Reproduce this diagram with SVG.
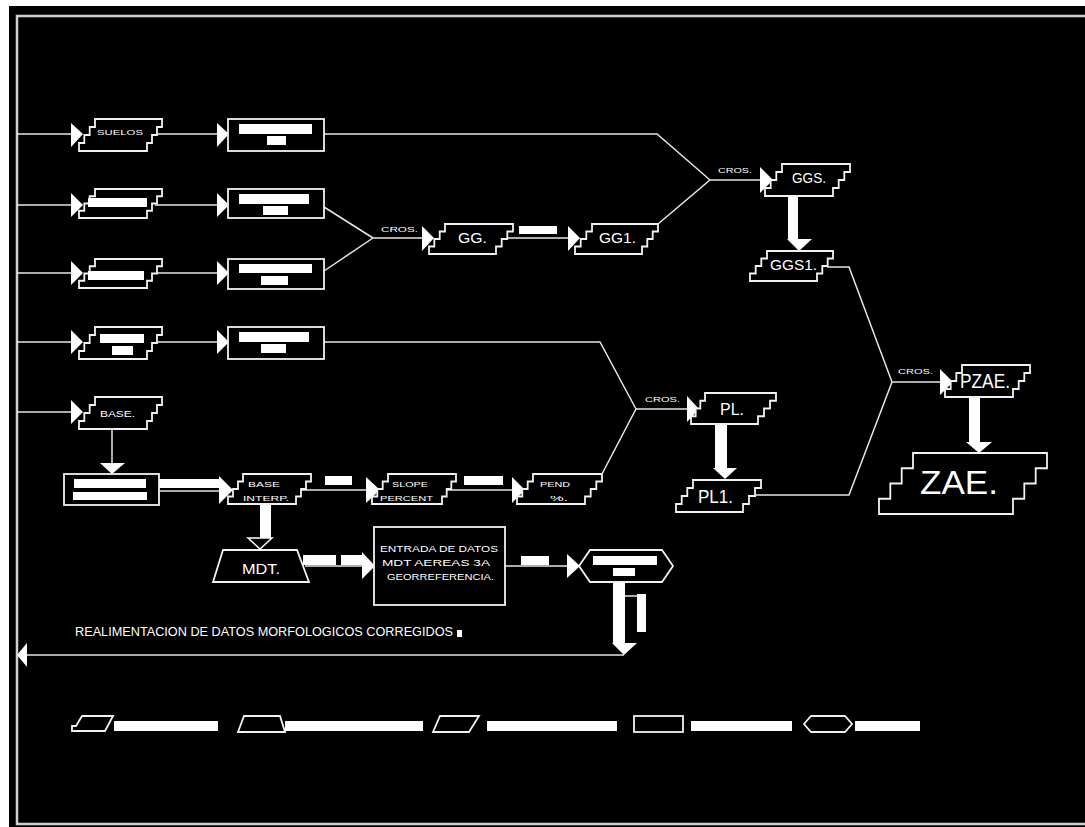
<svg xmlns="http://www.w3.org/2000/svg" width="1085" height="827" viewBox="0 0 1085 827">
<style>
.ln{stroke:#e6e6e6;stroke-width:1.5;fill:none}
.sh{stroke:#f2f2f2;stroke-width:1.8;fill:#000}
.wb{fill:#fff}
.ah{fill:#fff}
.t{fill:#fff;font-family:'Liberation Sans',Arial,sans-serif}
.s{font-size:8px}
.m{font-size:15px}
</style>
<rect x="0" y="0" width="1085" height="827" fill="#fff"/>
<rect x="9" y="6" width="1076" height="821" fill="#000"/>
<path d="M1085,16 H17 V824 H1085" fill="none" stroke="#d0d0d0" stroke-width="2.5"/>

<g id="connectors">
  <path class="ln" d="M17,134 H71 M155,134 H217"/>
  <path class="ln" d="M17,205 H71 M155,205 H217"/>
  <path class="ln" d="M17,273 H71 M155,273 H217"/>
  <path class="ln" d="M17,342 H71 M155,342 H217"/>
  <path class="ln" d="M17,412 H71"/>
  <polygon class="ah" points="71,123 83,134 71,147"/>
  <polygon class="ah" points="217,123 229,134 217,147"/>
  <polygon class="ah" points="71,193 83,205 71,217"/>
  <polygon class="ah" points="217,193 229,205 217,217"/>
  <polygon class="ah" points="71,261 83,273 71,285"/>
  <polygon class="ah" points="217,261 229,273 217,285"/>
  <polygon class="ah" points="71,330 83,342 71,354"/>
  <polygon class="ah" points="217,330 229,342 217,354"/>
  <polygon class="ah" points="71,400 83,412 71,424"/>
  <path class="ln" d="M324,134 H657 L710,180"/>
  <path class="ln" d="M324,207 L373,238 M324,271 L373,238 M373,238 H422"/>
  <polygon class="ah" points="422,226 434,238 422,251"/>
  <path class="ln" d="M500,238 H568"/>
  <rect class="wb" x="519" y="226" width="38" height="8"/>
  <polygon class="ah" points="568,226 580,238 568,251"/>
  <path class="ln" d="M658,224 L710,180 H760"/>
  <polygon class="ah" points="760,167 773,180 760,193"/>
  <rect class="wb" x="788" y="196" width="10" height="43"/>
  <polygon class="ah" points="787,239 812,239 799,251"/>
  <path class="ln" d="M827,267 H849 L892,382"/>
  <path class="ln" d="M324,342 H600 L636,409"/>
  <path class="ln" d="M112,429 V463"/>
  <polygon class="ah" points="100,463 125,463 112,474"/>
  <rect class="wb" x="159" y="479" width="60" height="9"/>
  <path class="ln" d="M159,491 H222"/>
  <polygon class="ah" points="219,476 233,490 219,504"/>
  <path class="ln" d="M300,490 H366"/>
  <rect class="wb" x="325" y="476" width="27" height="9"/>
  <polygon class="ah" points="366,477 380,490 366,503"/>
  <path class="ln" d="M446,490 H512"/>
  <rect class="wb" x="464" y="476" width="39" height="9"/>
  <polygon class="ah" points="512,477 525,490 512,503"/>
  <path class="ln" d="M602,474 L636,409 H687"/>
  <polygon class="ah" points="687,396 699,409 687,422"/>
  <rect class="wb" x="715" y="424" width="12" height="44"/>
  <polygon class="ah" points="713,468 737,468 725,479"/>
  <path class="ln" d="M752,495 H849 L892,382 H940"/>
  <polygon class="ah" points="940,369 953,382 940,395"/>
  <rect class="wb" x="969" y="397" width="11" height="45"/>
  <polygon class="ah" points="966,442 992,442 979,453"/>
  <rect class="wb" x="260" y="504" width="11" height="34"/>
  <polygon points="248,538 272,538 260,549" fill="#000" stroke="#fff" stroke-width="1.5"/>
  <path class="ln" d="M305,566 H364"/>
  <rect class="wb" x="303" y="555" width="33" height="10"/>
  <rect class="wb" x="341" y="555" width="22" height="10"/>
  <polygon class="ah" points="362,552 375,566 362,579"/>
  <path class="ln" d="M505,566 H568"/>
  <rect class="wb" x="521" y="556" width="28" height="9"/>
  <polygon class="ah" points="567,554 580,566 567,578"/>
  <rect class="wb" x="613" y="582" width="12" height="61"/>
  <path class="ln" d="M625,596 H637"/>
  <rect class="wb" x="637" y="594" width="9" height="38"/>
  <polygon class="ah" points="612,643 637,643 624,655"/>
  <path class="ln" d="M624,655 H26"/>
  <polygon class="ah" points="27,643 17,655 27,667"/>
  <text class="t" x="381" y="232" font-size="8" textLength="37" lengthAdjust="spacingAndGlyphs">CROS.</text>
  <text class="t" x="718" y="173" font-size="8" textLength="34" lengthAdjust="spacingAndGlyphs">CROS.</text>
  <text class="t" x="645" y="402" font-size="8" textLength="35" lengthAdjust="spacingAndGlyphs">CROS.</text>
  <text class="t" x="898" y="374" font-size="8" textLength="35" lengthAdjust="spacingAndGlyphs">CROS.</text>
  <text class="t" x="75" y="636" font-size="12.5" textLength="378" lengthAdjust="spacingAndGlyphs">REALIMENTACION DE DATOS MORFOLOGICOS CORREGIDOS</text>
  <rect class="wb" x="457" y="630" width="5" height="7"/>
</g>

<g id="suelos">
  <path class="sh" d="M95,119 H162 V127 H157 V135 H152 V143 H147 V151 H79 V143 H84.3 V135 H89.7 V127 H95 Z"/>
  <text class="t" x="97" y="135" font-size="8" textLength="46" lengthAdjust="spacingAndGlyphs">SUELOS</text>
</g>
<g id="in2">
  <path class="sh" d="M95,189 H162 V196.25 H157 V203.5 H152 V210.75 H147 V218 H79 V210.75 H84.3 V203.5 H89.7 V196.25 H95 Z"/>
  <rect class="wb" x="88" y="198" width="59" height="9"/>
</g>
<g id="in3">
  <path class="sh" d="M95,259 H162 V266.25 H157 V273.5 H152 V280.75 H147 V288 H79 V280.75 H84.3 V273.5 H89.7 V266.25 H95 Z"/>
  <rect class="wb" x="88" y="271" width="56" height="9"/>
</g>
<g id="in4">
  <path class="sh" d="M95,327 H162 V335 H157 V343 H152 V351 H147 V359 H79 V351 H84.3 V343 H89.7 V335 H95 Z"/>
  <rect class="wb" x="100" y="334" width="44" height="9"/>
  <rect class="wb" x="112" y="346" width="21" height="9"/>
</g>
<g id="base">
  <path class="sh" d="M95,397 H162 V405 H157 V413 H152 V421 H147 V429 H79 V421 H84.3 V413 H89.7 V405 H95 Z"/>
  <text class="t" x="100" y="417" font-size="9" textLength="35" lengthAdjust="spacingAndGlyphs">BASE.</text>
</g>
<g id="r1">
  <rect class="sh" x="228" y="119" width="96" height="32"/>
  <rect class="wb" x="239" y="124" width="73" height="10"/>
  <rect class="wb" x="267" y="136" width="19" height="9"/>
</g>
<g id="r2">
  <rect class="sh" x="228" y="189" width="96" height="29"/>
  <rect class="wb" x="239" y="194" width="70" height="10"/>
  <rect class="wb" x="263" y="206" width="25" height="9"/>
</g>
<g id="r3">
  <rect class="sh" x="228" y="259" width="96" height="30"/>
  <rect class="wb" x="239" y="264" width="73" height="9"/>
  <rect class="wb" x="261" y="276" width="27" height="9"/>
</g>
<g id="r4">
  <rect class="sh" x="228" y="327" width="96" height="32"/>
  <rect class="wb" x="239" y="332" width="70" height="10"/>
  <rect class="wb" x="261" y="344" width="25" height="9"/>
</g>
<g id="basebox">
  <rect class="sh" x="64" y="474" width="95" height="31"/>
  <rect class="wb" x="74" y="479" width="72" height="9"/>
  <rect class="wb" x="73" y="492" width="74" height="8"/>
</g>
<g id="gg">
  <path class="sh" d="M445,224 H513 V231.5 H507.3 V239 H501.7 V246.5 H496 V254 H429 V246.5 H434.3 V239 H439.7 V231.5 H445 Z"/>
  <text class="t m" x="458" y="243" textLength="29" lengthAdjust="spacingAndGlyphs">GG.</text>
</g>
<g id="gg1">
  <path class="sh" d="M592,224 H658 V231.5 H652.7 V239 H647.3 V246.5 H642 V254 H575 V246.5 H580.7 V239 H586.3 V231.5 H592 Z"/>
  <text class="t m" x="599" y="243" textLength="37" lengthAdjust="spacingAndGlyphs">GG1.</text>
</g>
<g id="ggs">
  <path class="sh" d="M782,164 H850 V172 H844.3 V180 H838.7 V188 H833 V196 H765 V188 H770.7 V180 H776.3 V172 H782 Z"/>
  <text class="t m" x="792" y="183" textLength="34" lengthAdjust="spacingAndGlyphs">GGS.</text>
</g>
<g id="ggs1">
  <path class="sh" d="M767,251 H833 V258.5 H827.7 V266 H822.3 V273.5 H817 V281 H750 V273.5 H755.7 V266 H761.3 V258.5 H767 Z"/>
  <text class="t m" x="770" y="270" textLength="47" lengthAdjust="spacingAndGlyphs">GGS1.</text>
</g>
<g id="baseinterp">
  <path class="sh" d="M243,474 H311 V481.5 H306 V489 H301 V496.5 H296 V504 H228 V496.5 H233 V489 H238 V481.5 H243 Z"/>
  <text class="t" x="248" y="487" font-size="8" textLength="32" lengthAdjust="spacingAndGlyphs">BASE</text>
  <text class="t" x="243" y="501" font-size="8" textLength="46" lengthAdjust="spacingAndGlyphs">INTERP.</text>
</g>
<g id="slope">
  <path class="sh" d="M388,474 H456 V481.5 H451.3 V489 H446.7 V496.5 H442 V504 H372 V496.5 H377.3 V489 H382.7 V481.5 H388 Z"/>
  <text class="t" x="392" y="487" font-size="8" textLength="36" lengthAdjust="spacingAndGlyphs">SLOPE</text>
  <text class="t" x="380" y="501" font-size="8" textLength="53" lengthAdjust="spacingAndGlyphs">PERCENT</text>
</g>
<g id="pend">
  <path class="sh" d="M533,474 H602 V481.5 H596.3 V489 H590.7 V496.5 H585 V504 H517 V496.5 H522.3 V489 H527.7 V481.5 H533 Z"/>
  <text class="t" x="540" y="487" font-size="8" textLength="30" lengthAdjust="spacingAndGlyphs">PEND</text>
  <text class="t" x="550" y="501" font-size="8" textLength="18" lengthAdjust="spacingAndGlyphs">%.</text>
</g>
<g id="pl">
  <path class="sh" d="M705,393 H776 V400.75 H770 V408.5 H764 V416.25 H758 V424 H691 V416.25 H695.7 V408.5 H700.3 V400.75 H705 Z"/>
  <text class="t" x="720" y="415" font-size="17" textLength="24" lengthAdjust="spacingAndGlyphs">PL.</text>
</g>
<g id="pl1">
  <path class="sh" d="M693,480 H761 V488 H755 V496 H749 V504 H743 V512 H676 V504 H681.7 V496 H687.3 V488 H693 Z"/>
  <text class="t" x="698" y="503" font-size="18" textLength="35" lengthAdjust="spacingAndGlyphs">PL1.</text>
</g>
<g id="pzae">
  <path class="sh" d="M962,365 H1030 V373 H1024.3 V381 H1018.7 V389 H1013 V397 H945 V389 H950.7 V381 H956.3 V373 H962 Z"/>
  <text class="t" x="960" y="388" font-size="20" textLength="50" lengthAdjust="spacingAndGlyphs">PZAE.</text>
</g>
<g id="zae">
  <path class="sh" d="M913,453 H1047 V468.25 H1035.7 V483.5 H1024.3 V498.75 H1013 V514 H879 V498.75 H890.3 V483.5 H901.7 V468.25 H913 Z"/>
  <text class="t" x="920" y="494" font-size="34" textLength="78" lengthAdjust="spacingAndGlyphs">ZAE.</text>
</g>
<g id="mdt">
  <polygon class="sh" points="223,550 297,550 309,582 213,582"/>
  <text class="t m" x="242" y="574" textLength="38" lengthAdjust="spacingAndGlyphs">MDT.</text>
</g>
<g id="entrada">
  <rect class="sh" x="374" y="527" width="131" height="78"/>
  <text class="t" x="380" y="552" font-size="8.5" textLength="118" lengthAdjust="spacingAndGlyphs">ENTRADA DE DATOS</text>
  <text class="t" x="382" y="566" font-size="8.5" textLength="108" lengthAdjust="spacingAndGlyphs">MDT AEREAS 3A</text>
  <text class="t" x="387" y="580" font-size="8.5" textLength="107" lengthAdjust="spacingAndGlyphs">GEORREFERENCIA.</text>
</g>
<g id="hexagon">
  <polygon class="sh" points="579,566 590,550 662,550 673,566 662,582 590,582"/>
  <rect class="wb" x="593" y="556" width="64" height="9"/>
  <rect class="wb" x="613" y="568" width="22" height="8"/>
</g>
<g id="legend">
  <polygon class="sh" points="82,716 113,716 105,731 72,731 72,726 76,726"/>
  <rect class="wb" x="114" y="721" width="104" height="10"/>
  <polygon class="sh" points="244,716 280,716 285,732 238,732"/>
  <rect class="wb" x="285" y="721" width="138" height="10"/>
  <polygon class="sh" points="440,716 479,716 469,732 433,732"/>
  <rect class="wb" x="487" y="721" width="130" height="10"/>
  <rect class="sh" x="634" y="716" width="49" height="16"/>
  <rect class="wb" x="691" y="721" width="101" height="10"/>
  <polygon class="sh" points="804,724 811,716 845,716 852,724 845,732 811,732"/>
  <rect class="wb" x="855" y="721" width="65" height="10"/>
</g>
</svg>
